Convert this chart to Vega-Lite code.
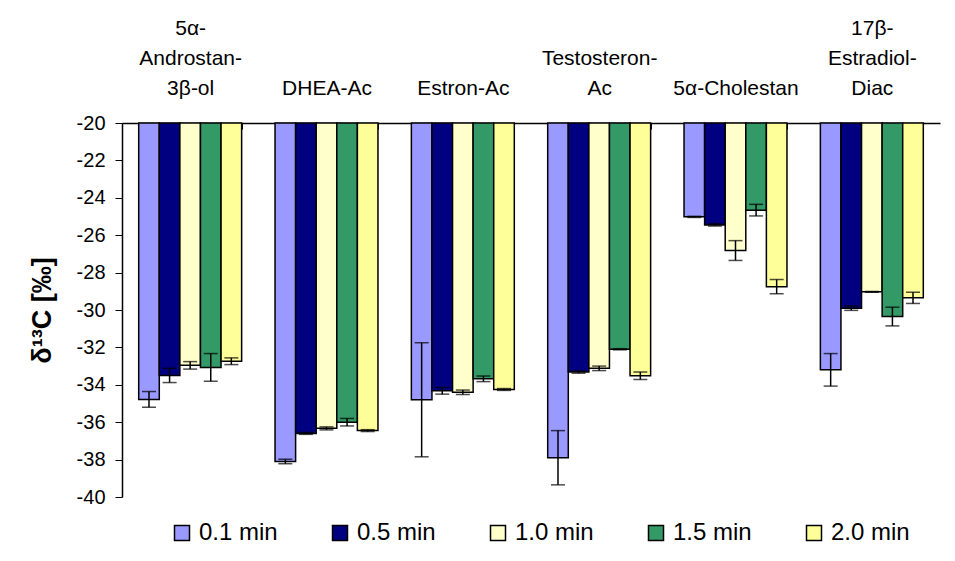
{
  "$schema": "https://vega.github.io/schema/vega-lite/v6.json",
  "width": 818,
  "height": 374,
  "autosize": {"type": "none"},
  "padding": {"left": 122, "top": 123, "right": 15, "bottom": 64},
  "background": "white",
  "config": {
    "font": "Liberation Sans",
    "view": {"stroke": null},
    "axisY": {
      "title": "δ¹³C [‰]",
      "titleFontSize": 27,
      "titleFontWeight": "bold",
      "titleColor": "black",
      "titlePadding": 20,
      "labelFontSize": 20,
      "labelColor": "black",
      "labelPadding": 10,
      "labelOverlap": false,
      "tickSize": 7,
      "tickColor": "black",
      "domainColor": "black",
      "domainWidth": 1.5,
      "grid": false
    }
  },
  "data": {
    "values": [
      {"compound": "5α-Androstan-3β-ol", "time": "0.1 min", "value": -34.78, "lo": -35.2, "hi": -34.36},
      {"compound": "5α-Androstan-3β-ol", "time": "0.5 min", "value": -33.5, "lo": -33.88, "hi": -33.12},
      {"compound": "5α-Androstan-3β-ol", "time": "1.0 min", "value": -32.96, "lo": -33.16, "hi": -32.76},
      {"compound": "5α-Androstan-3β-ol", "time": "1.5 min", "value": -33.07, "lo": -33.81, "hi": -32.33},
      {"compound": "5α-Androstan-3β-ol", "time": "2.0 min", "value": -32.74, "lo": -32.92, "hi": -32.56},
      {"compound": "DHEA-Ac", "time": "0.1 min", "value": -38.1, "lo": -38.22, "hi": -37.98},
      {"compound": "DHEA-Ac", "time": "0.5 min", "value": -36.6, "lo": -36.65, "hi": -36.55},
      {"compound": "DHEA-Ac", "time": "1.0 min", "value": -36.33, "lo": -36.41, "hi": -36.25},
      {"compound": "DHEA-Ac", "time": "1.5 min", "value": -36.0, "lo": -36.2, "hi": -35.8},
      {"compound": "DHEA-Ac", "time": "2.0 min", "value": -36.45, "lo": -36.5, "hi": -36.4},
      {"compound": "Estron-Ac", "time": "0.1 min", "value": -34.8, "lo": -37.85, "hi": -31.75},
      {"compound": "Estron-Ac", "time": "0.5 min", "value": -34.32, "lo": -34.5, "hi": -34.14},
      {"compound": "Estron-Ac", "time": "1.0 min", "value": -34.4, "lo": -34.52, "hi": -34.28},
      {"compound": "Estron-Ac", "time": "1.5 min", "value": -33.68, "lo": -33.83, "hi": -33.53},
      {"compound": "Estron-Ac", "time": "2.0 min", "value": -34.25, "lo": -34.3, "hi": -34.2},
      {"compound": "Testosteron-Ac", "time": "0.1 min", "value": -37.9, "lo": -39.35, "hi": -36.45},
      {"compound": "Testosteron-Ac", "time": "0.5 min", "value": -33.32, "lo": -33.38, "hi": -33.26},
      {"compound": "Testosteron-Ac", "time": "1.0 min", "value": -33.12, "lo": -33.24, "hi": -33.0},
      {"compound": "Testosteron-Ac", "time": "1.5 min", "value": -32.1, "lo": -32.13, "hi": -32.07},
      {"compound": "Testosteron-Ac", "time": "2.0 min", "value": -33.52, "lo": -33.72, "hi": -33.32},
      {"compound": "5α-Cholestan", "time": "0.1 min", "value": -25.02, "lo": -25.05, "hi": -24.99},
      {"compound": "5α-Cholestan", "time": "0.5 min", "value": -25.45, "lo": -25.51, "hi": -25.39},
      {"compound": "5α-Cholestan", "time": "1.0 min", "value": -26.82, "lo": -27.35, "hi": -26.29},
      {"compound": "5α-Cholestan", "time": "1.5 min", "value": -24.66, "lo": -24.97, "hi": -24.35},
      {"compound": "5α-Cholestan", "time": "2.0 min", "value": -28.75, "lo": -29.13, "hi": -28.37},
      {"compound": "17β-Estradiol-Diac", "time": "0.1 min", "value": -33.2, "lo": -34.07, "hi": -32.33},
      {"compound": "17β-Estradiol-Diac", "time": "0.5 min", "value": -29.9, "lo": -30.02, "hi": -29.78},
      {"compound": "17β-Estradiol-Diac", "time": "1.0 min", "value": -29.03, "lo": -29.05, "hi": -29.01},
      {"compound": "17β-Estradiol-Diac", "time": "1.5 min", "value": -30.35, "lo": -30.85, "hi": -29.85},
      {"compound": "17β-Estradiol-Diac", "time": "2.0 min", "value": -29.35, "lo": -29.65, "hi": -29.05}
    ]
  },
  "encoding": {
    "x": {
      "field": "compound",
      "type": "nominal",
      "sort": ["5α-Androstan-3β-ol", "DHEA-Ac", "Estron-Ac", "Testosteron-Ac", "5α-Cholestan", "17β-Estradiol-Diac"],
      "scale": {"paddingInner": 0.245, "paddingOuter": 0.1225},
      "axis": {
        "orient": "top",
        "title": null,
        "labelAngle": 0,
        "labelFontSize": 21,
        "labelLineHeight": 30,
        "labelColor": "black",
        "labelBaseline": "bottom",
        "labelPadding": 91,
        "labelExpr": "datum.value == '5α-Androstan-3β-ol' ? ['5α-', 'Androstan-', '3β-ol'] : datum.value == 'Testosteron-Ac' ? ['\u2800', 'Testosteron-', 'Ac'] : datum.value == '17β-Estradiol-Diac' ? ['17β-', 'Estradiol-', 'Diac'] : ['\u2800', '\u2800', datum.value]",
        "tickBand": "extent",
        "tickSize": -6,
        "tickColor": "black",
        "domainColor": "black",
        "domainWidth": 1.5,
        "grid": false
      }
    },
    "xOffset": {
      "field": "time",
      "type": "nominal",
      "sort": ["0.1 min", "0.5 min", "1.0 min", "1.5 min", "2.0 min"],
      "scale": {"paddingInner": 0, "paddingOuter": 0}
    }
  },
  "layer": [
    {
      "mark": {"type": "bar", "stroke": "black", "strokeWidth": 1.5},
      "encoding": {
        "y": {
          "field": "value",
          "type": "quantitative",
          "scale": {"domain": [-40, -20], "nice": false, "zero": false},
          "axis": {
            "title": "δ¹³C [‰]",
            "values": [-40, -38, -36, -34, -32, -30, -28, -26, -24, -22, -20],
            "labelExpr": "'' + datum.value"
          }
        },
        "y2": {"datum": -20},
        "fill": {
          "field": "time",
          "type": "nominal",
          "sort": ["0.1 min", "0.5 min", "1.0 min", "1.5 min", "2.0 min"],
          "scale": {
            "domain": ["0.1 min", "0.5 min", "1.0 min", "1.5 min", "2.0 min"],
            "range": ["#9999FF", "#000080", "#FFFFCC", "#339966", "#FFFF99"]
          },
          "legend": {
            "orient": "none",
            "legendX": 48,
            "legendY": 398,
            "direction": "horizontal",
            "columns": 5,
            "columnPadding": 50,
            "title": null,
            "labelFontSize": 24,
            "labelColor": "black",
            "labelOffset": 5,
            "symbolType": "square",
            "symbolSize": 225,
            "symbolStrokeColor": "black",
            "symbolStrokeWidth": 1.5
          }
        }
      }
    },
    {
      "mark": {"type": "rule", "color": "black", "strokeWidth": 1.5},
      "encoding": {
        "y": {
          "field": "lo",
          "type": "quantitative",
          "axis": {
            "title": "δ¹³C [‰]",
            "values": [-40, -38, -36, -34, -32, -30, -28, -26, -24, -22, -20],
            "labelExpr": "'' + datum.value"
          }
        },
        "y2": {"field": "hi"}
      }
    },
    {
      "mark": {"type": "tick", "color": "black", "size": 14, "thickness": 1.5},
      "encoding": {
        "y": {
          "field": "lo",
          "type": "quantitative",
          "axis": {
            "title": "δ¹³C [‰]",
            "values": [-40, -38, -36, -34, -32, -30, -28, -26, -24, -22, -20],
            "labelExpr": "'' + datum.value"
          }
        }
      }
    },
    {
      "mark": {"type": "tick", "color": "black", "size": 14, "thickness": 1.5},
      "encoding": {
        "y": {
          "field": "hi",
          "type": "quantitative",
          "axis": {
            "title": "δ¹³C [‰]",
            "values": [-40, -38, -36, -34, -32, -30, -28, -26, -24, -22, -20],
            "labelExpr": "'' + datum.value"
          }
        }
      }
    }
  ]
}
